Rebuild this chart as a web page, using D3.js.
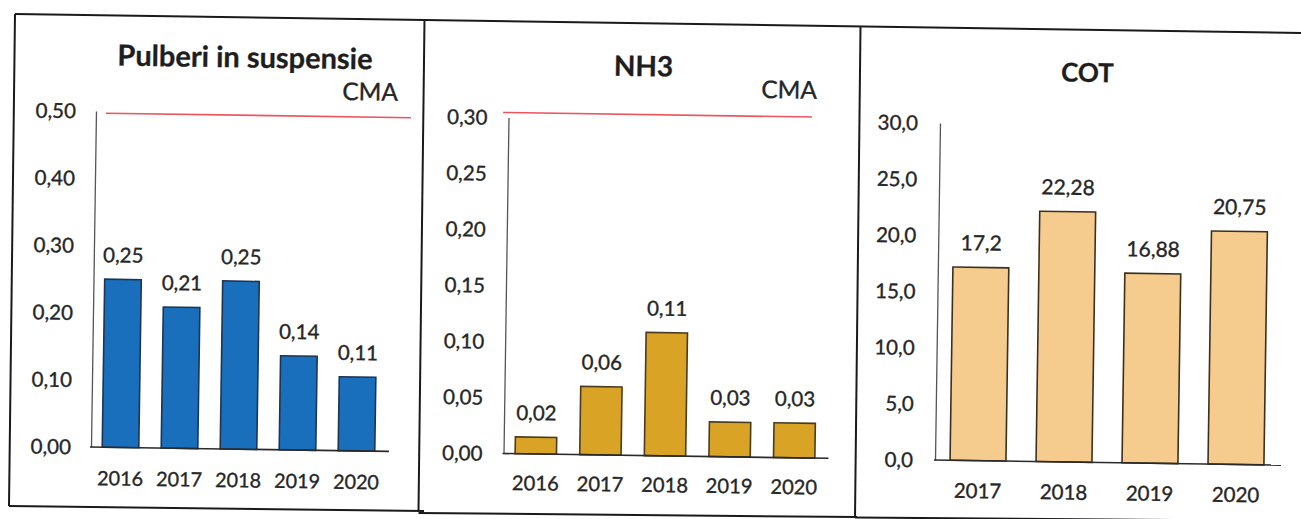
<!DOCTYPE html>
<html><head><meta charset="utf-8">
<script src="https://cdn.jsdelivr.net/npm/d3@7"></script>
<style>body{margin:0;background:#fff}svg{display:block}</style>
</head><body>
<svg id="chart" width="1301" height="519"></svg>
<script>
// ---------- DATA ----------
const pmTitle = "Pulberi in suspensie";
const pmYears = ["2016", "2017", "2018", "2019", "2020"];
const pmValues = [0.25, 0.21, 0.25, 0.14, 0.11];
const pmLabels = ["0,25", "0,21", "0,25", "0,14", "0,11"];
const pmTicks = [0, 0.1, 0.2, 0.3, 0.4, 0.5];
const pmCMA = 0.5;

const nh3Title = "NH3";
const nh3Years = ["2016", "2017", "2018", "2019", "2020"];
const nh3Values = [0.015, 0.061, 0.11, 0.031, 0.031];
const nh3Labels = ["0,02", "0,06", "0,11", "0,03", "0,03"];
const nh3Ticks = [0, 0.05, 0.1, 0.15, 0.2, 0.25, 0.3];
const nh3CMA = 0.3;

const cotTitle = "COT";
const cotYears = ["2017", "2018", "2019", "2020"];
const cotValues = [17.2, 22.28, 16.88, 20.75];
const cotLabels = ["17,2", "22,28", "16,88", "20,75"];
const cotTicks = [0, 5, 10, 15, 20, 25, 30];

const cmaText = "CMA";

// ---------- LAYOUT ----------
const roLocale = d3.formatLocale({decimal: ",", thousands: ".", grouping: [3], currency: ["", " lei"]});
const svg = d3.select("#chart");
const FONT = "Lato, 'Open Sans', sans-serif";
const TXT = "#262626";
const TXT_SW = 0.35;

// scanned page is slightly rotated
const theta = 0.85, cx = 650, cy = 260;
const rad = theta * Math.PI / 180, cs = Math.cos(rad), sn = Math.sin(rad);
function unrot(x, y) { const dx = x - cx, dy = y - cy; return [cx + dx * cs + dy * sn, cy - dx * sn + dy * cs]; }

// frame (screen coordinates)
const frame = svg.append("g").attr("stroke", "#1a1a1a").attr("stroke-width", 2).attr("fill", "none");
const frameLines = [
  [[15, 14], [1301, 33]],
  [[15, 14], [9, 506]],
  [[9, 506], [424, 511]],
  [[424.5, 20], [418.5, 511]],
  [[418.5, 513], [857, 517]],
  [[860.5, 27], [855, 517.5]],
  [[855, 517.5], [1301, 521]]
];
frameLines.forEach(l => frame.append("line").attr("x1", l[0][0]).attr("y1", l[0][1]).attr("x2", l[1][0]).attr("y2", l[1][1]));

const root = svg.append("g").attr("transform", `rotate(${theta},${cx},${cy})`);

function styleText(sel, fs) {
  return sel.attr("font-family", FONT).attr("font-size", fs).attr("fill", TXT)
    .attr("stroke", TXT).attr("stroke-width", TXT_SW);
}

function drawPanel(cfg) {
  const [ox, oy] = unrot(cfg.origin[0], cfg.origin[1]);
  const g = root.append("g").attr("transform", `translate(${ox},${oy})`);
  const x = d3.scaleBand().domain(cfg.cats).range([0, cfg.W]).paddingInner(cfg.pad).paddingOuter(cfg.pad / 2);
  const y = d3.scaleLinear().domain([0, cfg.max]).range([0, -cfg.H]);

  // bars
  g.selectAll("rect.bar").data(cfg.values).join("rect")
    .attr("class", "bar")
    .attr("x", (d, i) => x(cfg.cats[i]))
    .attr("y", d => y(d))
    .attr("width", x.bandwidth())
    .attr("height", d => -y(d))
    .attr("fill", cfg.fill).attr("stroke", cfg.stroke).attr("stroke-width", 1.6);

  // y axis
  const ya = g.append("g").call(d3.axisLeft(y).tickValues(cfg.ticks).tickFormat(cfg.fmt)
    .tickSize(0).tickSizeOuter(0).tickPadding(cfg.tickPad));
  ya.select(".domain").attr("stroke", "#555").attr("stroke-width", 1.3);
  styleText(ya.selectAll("text"), cfg.tickFs).attr("dy", "0.34em");

  // x axis
  const xa = g.append("g").call(d3.axisBottom(x).tickSize(0).tickSizeOuter(0).tickPadding(cfg.xPad));
  xa.select(".domain").attr("stroke", "#2a2a2a").attr("stroke-width", 1.6)
    .attr("d", `M${cfg.baseExt[0]},0H${cfg.W + cfg.baseExt[1]}`);
  styleText(xa.selectAll("text"), cfg.xFs);

  // value labels
  styleText(g.selectAll("text.val").data(cfg.values).join("text")
    .attr("class", "val")
    .attr("x", (d, i) => x(cfg.cats[i]) + x.bandwidth() / 2)
    .attr("y", d => y(d) - 17)
    .attr("text-anchor", "middle"), cfg.valFs)
    .text((d, i) => cfg.labels[i]);

  // CMA limit line
  if (cfg.cma != null) {
    g.append("line")
      .attr("x1", cfg.cmaX[0]).attr("x2", cfg.cmaX[1])
      .attr("y1", y(cfg.cma) + cfg.cmaDy).attr("y2", y(cfg.cma) + cfg.cmaDy)
      .attr("stroke", "#ec5560").attr("stroke-width", 1.6);
    const [lx, ly] = unrot(cfg.cmaLabel[0], cfg.cmaLabel[1]);
    styleText(root.append("text").attr("x", lx).attr("y", ly).attr("dy", "0.36em")
      .attr("text-anchor", "end"), 24.5).text(cmaText);
  }
  // title
  const [tx, ty] = unrot(cfg.titlePos[0], cfg.titlePos[1]);
  root.append("text").attr("x", tx).attr("y", ty).attr("dy", "0.36em")
    .attr("text-anchor", "middle").attr("font-family", FONT).attr("font-weight", 700)
    .attr("font-size", cfg.titleFs).attr("fill", "#1e1e1e")
    .attr("stroke", "#1e1e1e").attr("stroke-width", 0.3).text(cfg.title);
}

drawPanel({
  cats: pmYears, values: pmValues, labels: pmLabels, ticks: pmTicks, max: 0.5,
  fmt: roLocale.format(".2f"), origin: [91, 447], W: 295, H: 336, pad: 0.38,
  fill: "#1a6fbd", stroke: "#1c3552", tickPad: 20, tickFs: 20.5, xPad: 24, xFs: 19.8, valFs: 20.5,
  baseExt: [-1, 3], cma: pmCMA, cmaX: [10, 315], cmaDy: 2, cmaLabel: [398, 92],
  title: pmTitle, titlePos: [245, 57], titleFs: 29
});
drawPanel({
  cats: nh3Years, values: nh3Values, labels: nh3Labels, ticks: nh3Ticks, max: 0.3,
  fmt: roLocale.format(".2f"), origin: [503.5, 453.5], W: 323, H: 336, pad: 0.36,
  fill: "#d9a425", stroke: "#4a3b1e", tickPad: 21, tickFs: 20.5, xPad: 22, xFs: 20.2, valFs: 20.5,
  baseExt: [-1, 2], cma: nh3CMA, cmaX: [-5.5, 303.5], cmaDy: -5, cmaLabel: [817, 90],
  title: nh3Title, titlePos: [643.5, 66], titleFs: 28
});
drawPanel({
  cats: cotYears, values: cotValues, labels: cotLabels, ticks: cotTicks, max: 30,
  fmt: roLocale.format(".1f"), origin: [935, 460], W: 344, H: 337, pad: 0.35,
  fill: "#f6cb8e", stroke: "#3a3020", tickPad: 22, tickFs: 20.5, xPad: 23, xFs: 20.5, valFs: 21,
  baseExt: [-1, 2], cma: null,
  title: cotTitle, titlePos: [1087.5, 72.5], titleFs: 26
});
</script>
</body></html>
